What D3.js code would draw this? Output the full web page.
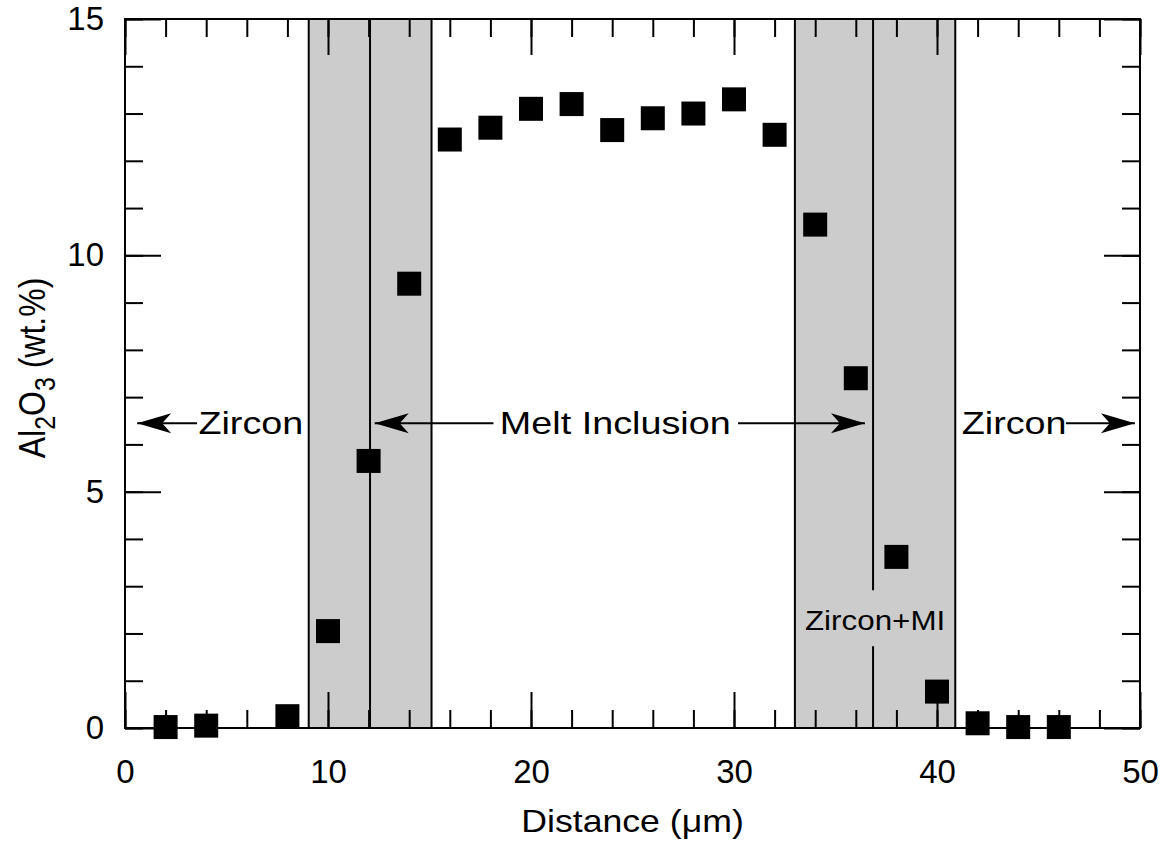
<!DOCTYPE html>
<html><head><meta charset="utf-8">
<script src="https://cdn.jsdelivr.net/npm/d3@7"></script>
<style>
html,body{margin:0;padding:0;background:#fff;}
text{font-family:"Liberation Sans",Arial,Helvetica,sans-serif;fill:#000;}
</style></head>
<body>
<svg id="chart" width="1167" height="849"></svg>
<script>
// ---- data ----
const distance = [2,4,8,10,12,14,16,18,20,22,24,26,28,30,32,34,36,38,40,42,44,46];
const al2o3    = [0.02,0.05,0.25,2.05,5.65,9.4,12.45,12.7,13.1,13.2,12.65,12.9,13.0,13.3,12.55,10.65,7.4,3.62,0.77,0.1,0.02,0.02];
const xMajorTicks = [0,10,20,30,40,50];
const yMajorTicks = [0,5,10,15];
// shaded boundary zones: [start, middle line, end]
const zones = [[9.05,12.07,15.1],[33.0,36.85,40.9]];
// annotation arrows (data units): text, text centre, arrow segments [from,to]
const annotations = [
  {text:"Zircon", cx:6.2, y:6.45, arrows:[[3.55,0.6]]},
  {text:"Melt Inclusion", cx:24.15, y:6.45, arrows:[[18.15,12.3],[30.2,36.45]]},
  {text:"Zircon", cx:43.8, y:6.45, arrows:[[46.35,49.75]]}
];
const zoneLabel = {text:"Zircon+MI", x:36.95, y:2.28};

// ---- layout ----
const svg = d3.select("#chart");
const x = d3.scaleLinear().domain([0,50]).range([125,1140]);
const y = d3.scaleLinear().domain([0,15]).range([728,19]);

// shaded zones
const zg = svg.append("g");
zones.forEach((z,i)=>{
  zg.append("rect").attr("x",x(z[0])).attr("y",y(15)).attr("width",x(z[2])-x(z[0])).attr("height",y(0)-y(15))
    .attr("fill","#cccccc").attr("stroke","#000").attr("stroke-width",2);
});
// middle lines
zg.append("line").attr("x1",x(zones[0][1])).attr("x2",x(zones[0][1])).attr("y1",y(15)).attr("y2",y(0)).attr("stroke","#000").attr("stroke-width",2);
zg.append("line").attr("x1",x(zones[1][1])).attr("x2",x(zones[1][1])).attr("y1",y(15)).attr("y2",y(zoneLabel.y)-30).attr("stroke","#000").attr("stroke-width",2);
zg.append("line").attr("x1",x(zones[1][1])).attr("x2",x(zones[1][1])).attr("y1",y(zoneLabel.y)+26).attr("y2",y(0)).attr("stroke","#000").attr("stroke-width",2);

// axes (ticks inward, mirrored)
function styleAxis(g){ g.select(".domain").remove(); g.selectAll("line").attr("stroke","#000").attr("stroke-width",2); }
const xMinor = d3.range(0,51,2), yMinor = d3.range(0,16,1);
svg.append("g").attr("transform",`translate(0,${y(0)})`).call(d3.axisBottom(x).tickValues(xMinor).tickSize(-18).tickFormat("")).call(styleAxis);
svg.append("g").attr("transform",`translate(0,${y(15)})`).call(d3.axisTop(x).tickValues(xMinor).tickSize(-18).tickFormat("")).call(styleAxis);
svg.append("g").attr("transform",`translate(${x(0)},0)`).call(d3.axisLeft(y).tickValues(yMinor).tickSize(-18).tickFormat("")).call(styleAxis);
svg.append("g").attr("transform",`translate(${x(50)},0)`).call(d3.axisRight(y).tickValues(yMinor).tickSize(-18).tickFormat("")).call(styleAxis);

const xb = svg.append("g").attr("transform",`translate(0,${y(0)})`)
  .call(d3.axisBottom(x).tickValues(xMajorTicks).tickSize(-36).tickPadding(32).tickFormat(d3.format("d"))).call(styleAxis);
svg.append("g").attr("transform",`translate(0,${y(15)})`).call(d3.axisTop(x).tickValues(xMajorTicks).tickSize(-36).tickFormat("")).call(styleAxis);
const yl = svg.append("g").attr("transform",`translate(${x(0)},0)`)
  .call(d3.axisLeft(y).tickValues(yMajorTicks).tickSize(-36).tickPadding(21).tickFormat(d3.format("d"))).call(styleAxis);
svg.append("g").attr("transform",`translate(${x(50)},0)`).call(d3.axisRight(y).tickValues(yMajorTicks).tickSize(-36).tickFormat("")).call(styleAxis);
[xb,yl].forEach(g=>g.selectAll("text").attr("font-size",33).attr("font-family",null).attr("fill","#000"));

// frame
svg.append("rect").attr("x",x(0)).attr("y",y(15)).attr("width",x(50)-x(0)).attr("height",y(0)-y(15))
  .attr("fill","none").attr("stroke","#000").attr("stroke-width",2);

// annotations
const arrowHead = "M0,0 L-34,-10 L-25,0 L-34,10 Z";
annotations.forEach(a=>{
  svg.append("text").attr("transform",`translate(${x(a.cx)},${y(a.y)+11}) scale(1.18,1)`)
    .attr("text-anchor","middle").attr("font-size",32).text(a.text);
  a.arrows.forEach(([f,t])=>{
    svg.append("line").attr("x1",x(f)).attr("x2",x(t)).attr("y1",y(a.y)).attr("y2",y(a.y)).attr("stroke","#000").attr("stroke-width",2);
    const dir = t<f ? 180 : 0;
    svg.append("path").attr("d",arrowHead).attr("fill","#000")
      .attr("transform",`translate(${x(t)},${y(a.y)}) rotate(${dir})`);
  });
});
svg.append("text").attr("transform",`translate(${x(zoneLabel.x)},${y(zoneLabel.y)+10}) scale(1.12,1)`)
  .attr("text-anchor","middle").attr("font-size",28).text(zoneLabel.text);

// data squares
svg.append("g").selectAll("rect").data(distance.map((d,i)=>[d,al2o3[i]])).join("rect")
  .attr("x",d=>x(d[0])-12).attr("y",d=>y(d[1])-12).attr("width",24).attr("height",24).attr("fill","#000");

// axis titles
svg.append("text").attr("transform",`translate(${(x(0)+x(50))/2},832) scale(1.15,1)`)
  .attr("text-anchor","middle").attr("font-size",31).text("Distance (\u03bcm)");
const yt = svg.append("text").attr("transform",`translate(45,368) rotate(-90) scale(1,1.15)`)
  .attr("text-anchor","middle").attr("font-size",32);
yt.append("tspan").text("Al");
yt.append("tspan").attr("font-size",25).attr("dy",9).text("2");
yt.append("tspan").attr("dy",-9).text("O");
yt.append("tspan").attr("font-size",25).attr("dy",9).text("3");
yt.append("tspan").attr("dy",-9).text(" (wt.%)");
</script>
</body></html>
